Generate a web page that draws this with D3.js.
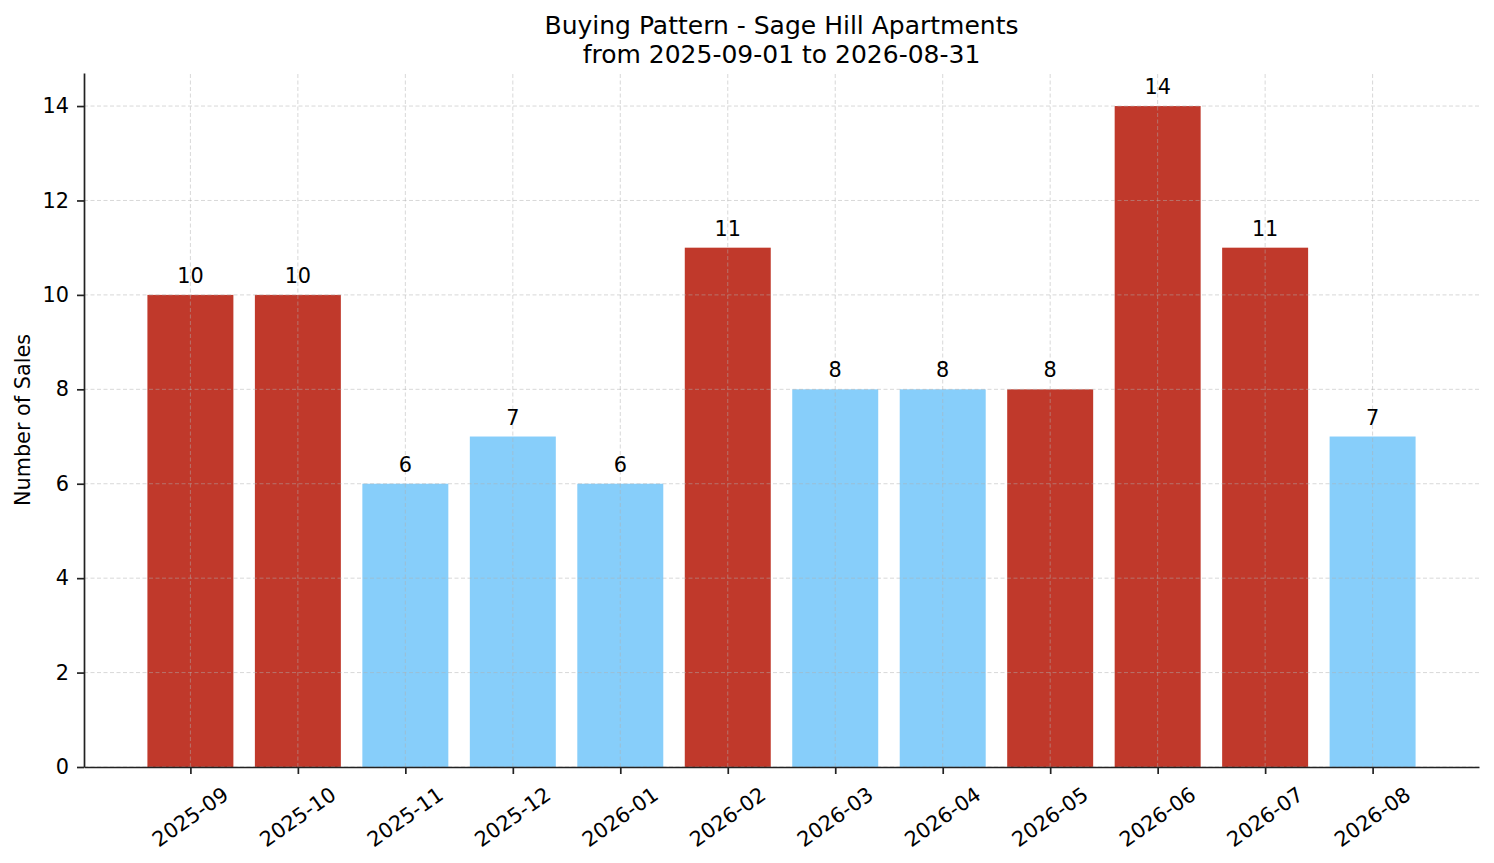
<!DOCTYPE html>
<html>
<head>
<meta charset="utf-8">
<script src="https://cdn.jsdelivr.net/npm/d3@7"></script>
<style>
  body { margin: 0; background: #fff; }
  svg text { font-family: "DejaVu Sans", sans-serif; fill: #000; }
</style>
</head>
<body>
<div class="chart"></div>
<script>
const months = ['2025-09', '2025-10', '2025-11', '2025-12', '2026-01', '2026-02',
                '2026-03', '2026-04', '2026-05', '2026-06', '2026-07', '2026-08']
const sales = [10, 10, 6, 7, 6, 11, 8, 8, 8, 14, 11, 7]
const highlighted = [true, true, false, false, false, true, false, false, true, true, true, false]
const yTicks = [0, 2, 4, 6, 8, 10, 12, 14]

const width = 1494
const height = 863
const margin = {top: 73, right: 15, bottom: 96, left: 84}
const fs = 20.8

const svg = d3.select('.chart')
    .append('svg')
    .attr('width', width)
    .attr('height', height)

const x = d3.scaleLinear()
    .domain([-0.99, months.length - 1 + 0.99])
    .range([margin.left, width - margin.right])

const y = d3.scaleLinear()
    .domain([0, 14.7])
    .range([height - margin.bottom, margin.top])

const barW = x(0.8) - x(0)

// bars
svg.append('g')
    .selectAll('rect')
    .data(sales)
    .join('rect')
    .attr('x', (d, i) => x(i) - barW / 2)
    .attr('y', d => y(d))
    .attr('width', barW)
    .attr('height', d => y(0) - y(d))
    .attr('fill', (d, i) => highlighted[i] ? '#c0392b' : '#87cefa')

// grid (drawn over the bars, faint)
const grid = svg.append('g')
    .attr('stroke', '#b0b0b0')
    .attr('stroke-opacity', 0.55)
    .attr('stroke-width', 0.9)
    .attr('stroke-dasharray', '4,2.5')

grid.selectAll('.gy')
    .data(yTicks)
    .join('line')
    .attr('x1', margin.left).attr('x2', width - margin.right)
    .attr('y1', d => y(d)).attr('y2', d => y(d))

grid.selectAll('.gx')
    .data(months)
    .join('line')
    .attr('x1', (d, i) => x(i)).attr('x2', (d, i) => x(i))
    .attr('y1', y(0)).attr('y2', margin.top)

// value labels
svg.append('g')
    .selectAll('text')
    .data(sales)
    .join('text')
    .attr('x', (d, i) => x(i))
    .attr('y', d => y(d) - 12)
    .attr('text-anchor', 'middle')
    .style('font-size', fs + 'px')
    .text(d => d)

// y axis
const yAxis = svg.append('g')
    .attr('transform', `translate(${margin.left},0)`)
    .call(d3.axisLeft(y).tickValues(yTicks).tickSize(7).tickPadding(8).tickSizeOuter(0))
yAxis.select('.domain').attr('stroke', '#222').attr('stroke-width', 1.7)
yAxis.selectAll('.tick line').attr('stroke', '#222').attr('stroke-width', 1.7)
yAxis.selectAll('.tick text').style('font-size', fs + 'px')

// x axis
const xAxis = svg.append('g')
    .attr('transform', `translate(0,${y(0)})`)
    .call(d3.axisBottom(x).tickValues(d3.range(months.length)).tickSize(7).tickSizeOuter(0).tickFormat(''))
xAxis.select('.domain').attr('stroke', '#222').attr('stroke-width', 1.7)
xAxis.selectAll('.tick line').attr('stroke', '#222').attr('stroke-width', 1.7)

// rotated month labels, centred under each tick like matplotlib
const ang = 35 * Math.PI / 180
svg.append('g')
    .selectAll('text')
    .data(months)
    .join('text')
    .style('font-size', fs + 'px')
    .attr('text-anchor', 'middle')
    .attr('dominant-baseline', 'central')
    .text(d => d)
    .each(function(d, i) {
        const w = this.getComputedTextLength()
        const h = fs * 0.95
        const boxH = w * Math.sin(ang) + h * Math.cos(ang)
        const top = y(0) + 7 + 10
        d3.select(this).attr('transform',
            `translate(${x(i)},${top + boxH / 2}) rotate(-35)`)
    })

// y label
svg.append('text')
    .attr('transform', `translate(30,${(y(0) + margin.top) / 2}) rotate(-90)`)
    .attr('text-anchor', 'middle')
    .style('font-size', fs + 'px')
    .text('Number of Sales')

// title
const cx = (margin.left + width - margin.right) / 2
svg.append('text')
    .attr('x', cx)
    .attr('y', 34)
    .attr('text-anchor', 'middle')
    .style('font-size', '25px')
    .text('Buying Pattern - Sage Hill Apartments')

svg.append('text')
    .attr('x', cx)
    .attr('y', 63)
    .attr('text-anchor', 'middle')
    .style('font-size', '25px')
    .text('from 2025-09-01 to 2026-08-31')
</script>
</body>
</html>
